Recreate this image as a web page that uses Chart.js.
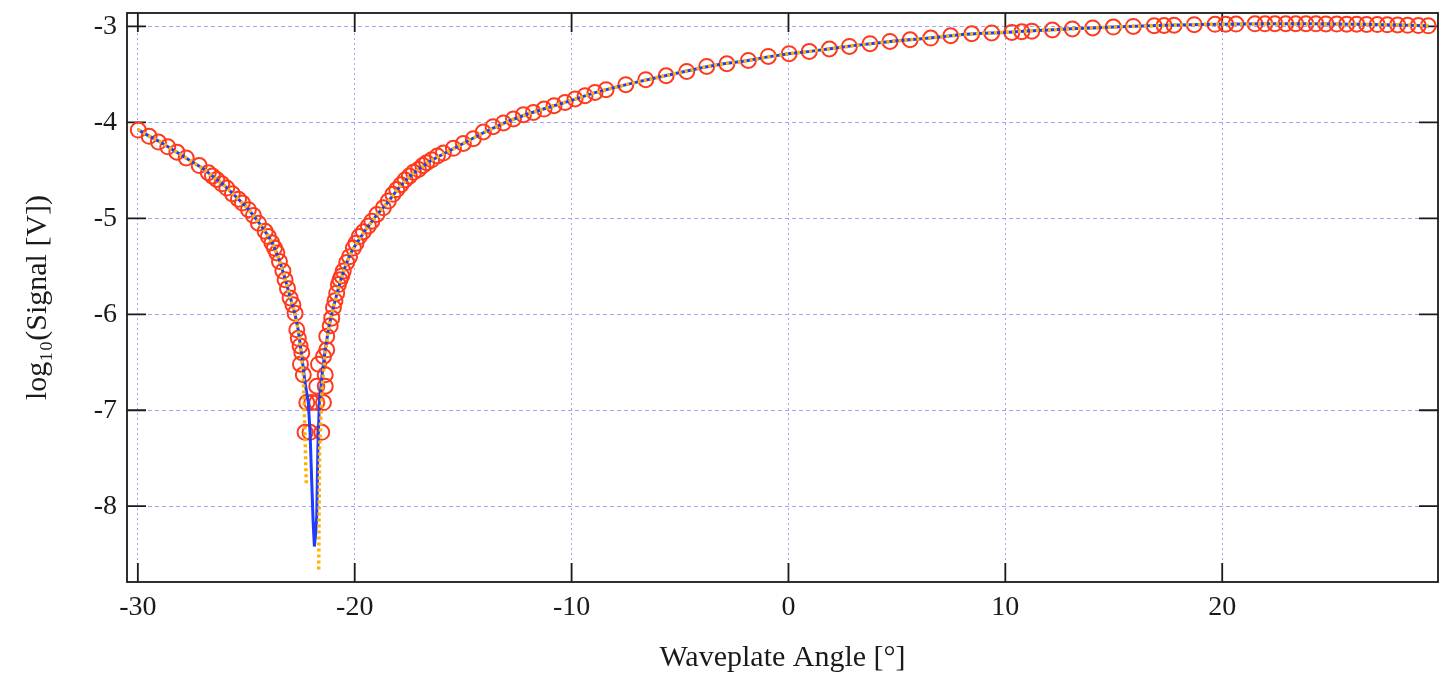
<!DOCTYPE html>
<html><head><meta charset="utf-8">
<script src="https://cdn.jsdelivr.net/npm/chart.js@4.4.0/dist/chart.umd.min.js"></script>
<style>html,body{margin:0;padding:0;background:#fff;} #wrap{width:1439px;height:677px;}</style>
</head><body><div id="wrap"><canvas id="c" width="1439" height="677"></canvas></div>
<script>
// Measured data: waveplate angle (deg) and log10 of signal (V)
const angles = [-29.98,-29.48,-29.05,-28.62,-28.20,-27.77,-27.17,-26.75,-26.56,-26.36,-26.13,-25.90,-25.64,-25.36,-25.18,-24.90,-24.67,-24.44,-24.13,-23.98,-23.82,-23.70,-23.59,-23.47,-23.31,-23.21,-23.10,-22.98,-22.85,-22.75,-22.67,-22.60,-22.52,-22.44,-22.50,-22.37,-22.21,-22.29,-22.06,-21.98,
-21.75,-21.52,-21.44,-21.75,-21.36,-21.67,-21.36,-21.44,-21.29,-21.29,-21.13,-21.06,-20.98,-20.91,-20.83,-20.75,-20.68,-20.60,-20.53,-20.37,-20.24,-20.06,-19.94,-19.79,-19.60,-19.37,-19.21,-18.98,-18.68,-18.45,-18.24,-18.06,-17.87,-17.68,-17.48,-17.29,-17.06,-16.86,-16.68,-16.45,-16.19,-15.91,-15.45,-14.99,-14.53,-14.07,-13.62,-13.14,-12.68,-12.22,-11.76,-11.27,-10.81,-10.30,-9.84,-9.38,-8.92,-8.41,-7.50,-6.58,-5.64,-4.69,-3.77,-2.84,-1.85,-0.93,0.03,0.96,1.89,2.81,3.76,4.68,5.61,6.56,7.48,8.45,9.37,10.30,10.76,11.22,12.17,13.09,14.03,14.98,15.90,16.86,17.32,17.78,18.71,19.67,20.16,20.64,21.51,21.97,22.43,22.93,23.39,23.86,24.32,24.78,25.28,25.74,26.20,26.66,27.15,27.61,28.09,28.55,29.04,29.50];
const logSignal = [-4.08,-4.145,-4.205,-4.255,-4.31,-4.37,-4.45,-4.525,-4.56,-4.595,-4.64,-4.685,-4.745,-4.80,-4.84,-4.91,-4.97,-5.05,-5.135,-5.19,-5.255,-5.31,-5.36,-5.45,-5.55,-5.64,-5.73,-5.83,-5.90,-5.99,-6.16,-6.25,-6.33,-6.40,-6.52,-6.63,-6.92,-7.23,-7.23,-6.92,
-6.92,-7.23,-6.92,-6.75,-6.75,-6.52,-6.63,-6.44,-6.37,-6.23,-6.12,-6.04,-5.93,-5.86,-5.78,-5.69,-5.64,-5.60,-5.55,-5.46,-5.40,-5.31,-5.26,-5.19,-5.14,-5.08,-5.03,-4.96,-4.89,-4.82,-4.75,-4.70,-4.65,-4.60,-4.56,-4.52,-4.49,-4.45,-4.42,-4.39,-4.35,-4.32,-4.27,-4.22,-4.17,-4.10,-4.045,-4.006,-3.965,-3.92,-3.896,-3.861,-3.826,-3.792,-3.756,-3.722,-3.688,-3.659,-3.607,-3.555,-3.514,-3.469,-3.417,-3.389,-3.354,-3.313,-3.284,-3.260,-3.235,-3.208,-3.180,-3.156,-3.139,-3.121,-3.097,-3.076,-3.068,-3.062,-3.055,-3.049,-3.037,-3.026,-3.016,-3.007,-3.000,-2.993,-2.990,-2.987,-2.982,-2.978,-2.977,-2.975,-2.973,-2.973,-2.972,-2.972,-2.972,-2.972,-2.973,-2.974,-2.975,-2.976,-2.977,-2.979,-2.981,-2.983,-2.985,-2.988,-2.991,-2.994];

// Fit curve 1 (blue solid)
const fitAngles = [-30,-29.5,-29,-28.5,-28,-27.5,-27,-26.5,-26,-25.5,-25,-24.5,-24,-23.75,-23.5,-23.25,-23,-22.75,-22.6,-22.48,-22.29,-22.14,-22.06,-21.98,-21.92,-21.86,-21.8,-21.75,-21.7,-21.63,-21.5,-21.36,-21.2,-21,-20.8,-20.6,-20.4,-20.2,-20,-19.5,-19,-18.5,-18,-17.5,-17,-16.5,-16,-15.5,-15,-14,-13,-12,-11,-10,-9,-8,-7,-6,-5,-4,-3,-2,-1,0,1,2,3,4,5,6,7,8,9,10,11,12,13,14,15,16,17,18,19,20,21,22,23,24,25,26,27,28,29,29.5];
const fitBlue = [-4.075,-4.14,-4.20,-4.27,-4.34,-4.41,-4.48,-4.57,-4.66,-4.77,-4.88,-5.02,-5.18,-5.28,-5.42,-5.60,-5.80,-6.00,-6.17,-6.37,-6.71,-6.92,-7.23,-7.76,-8.15,-8.42,-8.28,-8.10,-7.41,-6.92,-6.62,-6.37,-6.14,-5.94,-5.77,-5.61,-5.48,-5.37,-5.29,-5.12,-4.97,-4.84,-4.69,-4.57,-4.48,-4.40,-4.34,-4.28,-4.22,-4.10,-3.995,-3.91,-3.84,-3.77,-3.695,-3.635,-3.58,-3.53,-3.48,-3.43,-3.39,-3.36,-3.32,-3.285,-3.26,-3.23,-3.20,-3.175,-3.15,-3.13,-3.11,-3.085,-3.07,-3.062,-3.047,-3.036,-3.025,-3.016,-3.007,-2.998,-2.991,-2.985,-2.979,-2.976,-2.974,-2.972,-2.972,-2.973,-2.975,-2.977,-2.98,-2.984,-2.989,-2.992];

// Fit curve 2 (orange dotted), with a break at the extinction point
const orangeAngles = [-30,-29.5,-29,-28.5,-28,-27.5,-27,-26.5,-26,-25.5,-25,-24.5,-24,-23.75,-23.5,-23.25,-23,-22.75,-22.6,-22.48,-22.37,-22.23,-21.95,-21.66,-21.62,-21.5,-21.36,-21.2,-21,-20.8,-20.6,-20.4,-20.2,-20,-19.5,-19,-18.5,-18,-17.5,-17,-16.5,-16,-15.5,-15,-14,-13,-12,-11,-10,-9,-8,-7,-6,-5,-4,-3,-2,-1,0,1,2,3,4,5,6,7,8,9,10,11,12,13,14,15,16,17,18,19,20,21,22,23,24,25,26,27,28,29,29.5];
const fitOrange = [-4.075,-4.14,-4.20,-4.27,-4.34,-4.41,-4.48,-4.57,-4.66,-4.77,-4.88,-5.02,-5.18,-5.28,-5.42,-5.60,-5.80,-6.00,-6.17,-6.37,-6.65,-7.77,null,-8.66,-7.41,-6.75,-6.40,-6.14,-5.94,-5.77,-5.61,-5.48,-5.37,-5.29,-5.12,-4.97,-4.84,-4.69,-4.57,-4.48,-4.40,-4.34,-4.28,-4.22,-4.10,-3.995,-3.91,-3.84,-3.77,-3.695,-3.635,-3.58,-3.53,-3.48,-3.43,-3.39,-3.36,-3.32,-3.285,-3.26,-3.23,-3.20,-3.175,-3.15,-3.13,-3.11,-3.085,-3.07,-3.062,-3.047,-3.036,-3.025,-3.016,-3.007,-2.998,-2.991,-2.985,-2.979,-2.976,-2.974,-2.972,-2.972,-2.973,-2.975,-2.977,-2.98,-2.984,-2.989,-2.992];

const xTicks = [-30,-20,-10,0,10,20];
const yTicks = [-3,-4,-5,-6,-7,-8];
const xTitle = 'Waveplate Angle [°]';
const yTitle = 'log\u2081\u2080(Signal [V])';

const zip = (xs, ys) => xs.map((x, i) => ({x: x, y: ys[i]}));

const FONT = "'Liberation Serif', 'DejaVu Serif', serif";
const INK = '#1a1a1a';

const framePlugin = {
  id: 'frame',
  beforeDatasetsDraw(chart) {
    const {ctx, chartArea: a, scales: {x, y}} = chart;
    ctx.save();
    ctx.strokeStyle = INK;
    ctx.lineWidth = 1.8;
    ctx.setLineDash([]);
    ctx.strokeRect(a.left, a.top, a.right - a.left, a.bottom - a.top);
    const L = 19;
    ctx.beginPath();
    x.ticks.forEach(t => {
      const px = x.getPixelForValue(t.value);
      ctx.moveTo(px, a.bottom); ctx.lineTo(px, a.bottom - L);
      ctx.moveTo(px, a.top); ctx.lineTo(px, a.top + L);
    });
    y.ticks.forEach(t => {
      const py = y.getPixelForValue(t.value);
      ctx.moveTo(a.left, py); ctx.lineTo(a.left + L, py);
      ctx.moveTo(a.right, py); ctx.lineTo(a.right - L, py);
    });
    ctx.stroke();
    ctx.restore();
  }
};

new Chart(document.getElementById('c'), {
  type: 'scatter',
  data: {
    datasets: [
      {
        label: 'data',
        data: zip(angles, logSignal),
        showLine: false,
        pointRadius: 7.5,
        pointBorderWidth: 2,
        pointBorderColor: '#ff3a1c',
        pointBackgroundColor: 'rgba(0,0,0,0)',
        order: 3
      },
      {
        label: 'fit1',
        data: zip(fitAngles, fitBlue),
        showLine: true,
        borderColor: '#1e3cff',
        borderWidth: 3,
        pointRadius: 0,
        tension: 0,
        order: 2
      },
      {
        label: 'fit2',
        data: zip(orangeAngles, fitOrange),
        showLine: true,
        spanGaps: false,
        borderColor: '#ffb300',
        borderWidth: 3.5,
        borderDash: [3, 3],
        borderCapStyle: 'butt',
        pointRadius: 0,
        tension: 0,
        order: 1
      }
    ]
  },
  options: {
    responsive: false,
    devicePixelRatio: 1,
    animation: false,
    layout: {autoPadding: false, padding: {top: 13, right: 1, left: 0, bottom: 0}},
    plugins: {legend: {display: false}, tooltip: {enabled: false}},
    scales: {
      x: {
        type: 'linear',
        min: -30.5, max: 29.95,
        afterBuildTicks: s => { s.ticks = xTicks.map(v => ({value: v})); },
        afterFit: s => { s.height = 95; s.paddingLeft = 0; s.paddingRight = 0; s.paddingTop = 0; s.paddingBottom = 0; },
        grid: {color: '#9fa5f4', lineWidth: 1, drawTicks: false},
        border: {display: false, dash: [2, 3]},
        ticks: {padding: 9, color: INK, font: {family: FONT, size: 28}, maxRotation: 0, autoSkip: false},
        title: {display: true, text: xTitle, color: INK, font: {family: FONT, size: 30}, padding: {top: 0, bottom: 1}}
      },
      y: {
        type: 'linear',
        min: -8.79, max: -2.86,
        afterBuildTicks: s => { s.ticks = yTicks.map(v => ({value: v})); },
        afterFit: s => { s.width = 127; s.paddingTop = 0; s.paddingBottom = 0; s.paddingLeft = 0; s.paddingRight = 0; },
        grid: {color: '#9fa5f4', lineWidth: 1, drawTicks: false},
        border: {display: false, dash: [4, 3]},
        ticks: {padding: 10, color: INK, font: {family: FONT, size: 28}, autoSkip: false},
        title: {display: true, text: yTitle, color: INK, font: {family: FONT, size: 30}, padding: {top: 20, bottom: 0}}
      }
    }
  },
  plugins: [framePlugin]
});
</script>
</body></html>
